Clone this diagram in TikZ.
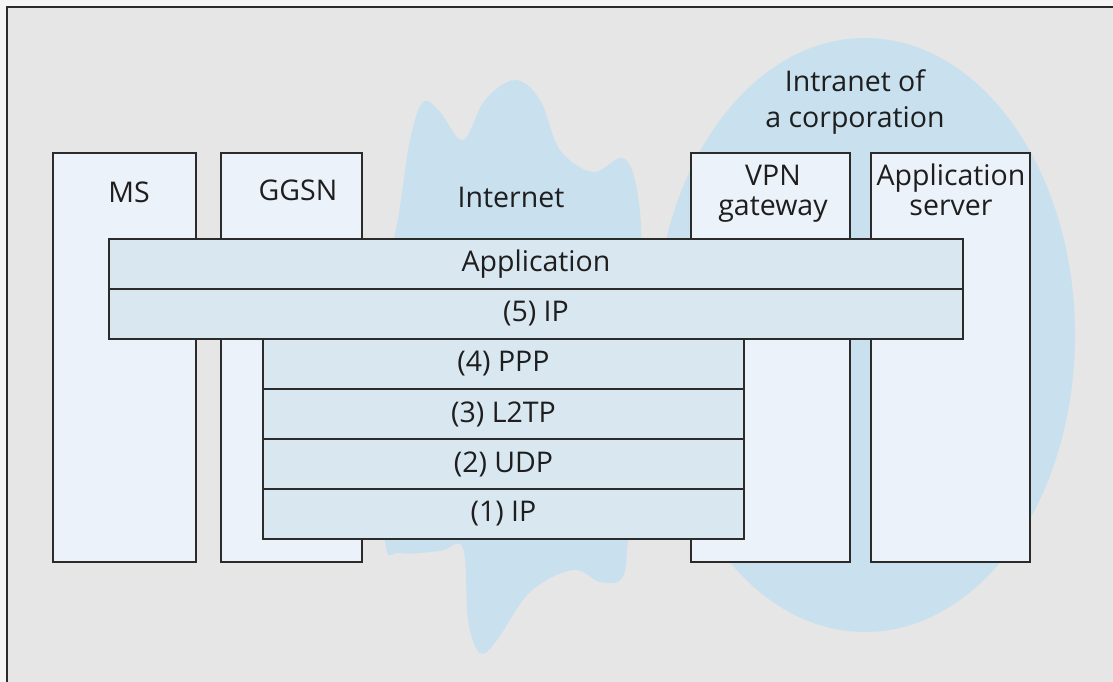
\documentclass[tikz,border=0pt]{standalone}
\usepackage{fontspec}
\setmainfont{Open Sans}
\definecolor{bgcol}{HTML}{E6E6E6}
\definecolor{boxfill}{HTML}{ECF2F9}
\definecolor{layerfill}{HTML}{D9E7F1}
\definecolor{blobcol}{HTML}{C9E0EE}
\definecolor{linecol}{HTML}{2B2B2B}
\definecolor{txtcol}{HTML}{1E1E1E}
\begin{document}
\begin{tikzpicture}[x=1pt,y=-1pt,
  every node/.style={font=\fontsize{28.5}{30}\selectfont, text=txtcol},
  entity/.style={draw=linecol, fill=boxfill, line width=1.6pt, inner sep=0pt, outer sep=0pt, anchor=north west, minimum height=409pt},
  layer/.style={draw=linecol, fill=layerfill, line width=1.6pt, inner sep=0pt, outer sep=0pt, minimum height=50pt},
  lbl/.style={anchor=base, inner sep=0pt, align=center}]
\useasboundingbox (0,0) rectangle (1113,682);
\fill[white!96!black] (0,0) rectangle (1113,682);
\fill[bgcol] (7,7) rectangle (1113,682);
\draw[linecol, line width=2pt] (7,682) -- (7,7) -- (1113,7);
% Internet cloud
\fill[blobcol] plot[smooth cycle, tension=0.6] coordinates {
  (400,207) (410,140) (423,102) (440,112) (463,140) (485,100) (515,80) (540,100)
  (560,150) (593,172) (623,158) (637,190) (642,260) (640,400) (628,540) (622,578)
  (600,582) (573,570) (530,592) (497,640) (480,653) (468,620) (463,548) (440,551)
  (400,553) (385,540) (385,400) (392,260)};
% Intranet
\fill[blobcol] (865,335) ellipse [x radius=210, y radius=297];
% entities
\node[entity, minimum width=143pt] (ms) at (53,153) {};
\node[entity, minimum width=141pt] (ggsn) at (221,153) {};
\node[entity, minimum width=159pt] (vpn) at (691,153) {};
\node[entity, minimum width=159pt] (srv) at (871,153) {};
\node[lbl] (mslbl) at (129,202) {MS};
\node[lbl] (ggsnlbl) at (298,200) {GGSN};
\node[lbl] (inetlbl) at (511,207) {Internet};
\node[lbl, font=\fontsize{28.5}{36}\selectfont] (intralbl) at (855,128) {Intranet of\\a corporation};
\node[lbl] (vpnlbl) at (773,215) {VPN\\gateway};
\node[lbl] (srvlbl) at (951,215) {Application\\server};
% layers
\node[layer, minimum width=854pt, anchor=north west] (app) at (109,239) {};
\node (applbl) at (app.center) {Application};
\node[layer, minimum width=854pt, anchor=north] (ip5) at (app.south) {};
\node (ip5lbl) at (ip5.center) {(5) IP};
\node[layer, minimum width=481pt, anchor=north west] (ppp) at (263,339) {};
\node (ppplbl) at (ppp.center) {(4) PPP};
\node[layer, minimum width=481pt, anchor=north] (l2tp) at (ppp.south) {};
\node (l2tplbl) at (l2tp.center) {(3) L2TP};
\node[layer, minimum width=481pt, anchor=north] (udp) at (l2tp.south) {};
\node (udplbl) at (udp.center) {(2) UDP};
\node[layer, minimum width=481pt, anchor=north] (ip1) at (udp.south) {};
\node (ip1lbl) at (ip1.center) {(1) IP};
\end{tikzpicture}
\end{document}
